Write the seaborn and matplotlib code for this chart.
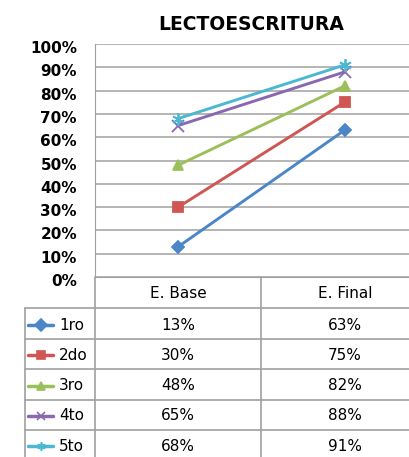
import pandas as pd
import matplotlib.pyplot as plt
import matplotlib.transforms as mtrans
import seaborn as sns

# datos de la tabla
etapas = ["E. Base", "E. Final"]
grados = ["1ro", "2do", "3ro", "4to", "5to"]
base = [13, 30, 48, 65, 68]
final = [63, 75, 82, 88, 91]
colores = ["#4A86C8", "#CF5652", "#9BBF59", "#8A68B0", "#4BB8D2"]
marcadores = ["D", "s", "^", "x", (6, 2, 0)]
tam = [6, 7.5, 7.5, 8, 9]

df = pd.DataFrame({
    "grado": [g for g in grados for _ in etapas],
    "pos": [i for _ in grados for i in range(len(etapas))],
    "valor": [v / 100 for b, f in zip(base, final) for v in (b, f)],
})

sns.set_style("white")
plt.rcParams["font.family"] = ["DejaVu Sans"]
plt.rcParams["text.color"] = "black"

W, H = 409, 457
fig = plt.figure(figsize=(W / 100, H / 100), dpi=100)

# capa de la tabla en coordenadas de pixel
tb = fig.add_axes([0, 0, 1, 1])
tb.set_xlim(0, W)
tb.set_ylim(H, 0)
tb.axis("off")

ax = fig.add_axes([95 / W, (H - 277) / H, (W - 95) / W, 233 / H])
ax.patch.set_alpha(0)

for g, c, m, s in zip(grados, colores, marcadores, tam):
    d = df[df["grado"] == g]
    sns.lineplot(x=d["pos"].values, y=d["valor"].values, color=c, marker=m,
                 linewidth=2.1, markersize=s, markeredgewidth=1.3,
                 markeredgecolor=c, ax=ax)

ax.set_xlim(-0.5, 1.387)
ax.set_ylim(0, 1)
ax.set_yticks([i / 10 for i in range(11)])
ax.set_yticklabels([f"{i * 10}%" for i in range(11)], fontweight="bold",
                   fontsize=11, color="black")
ax.tick_params(axis="y", length=0, pad=13)
# etiquetas un poco por debajo de la linea, como en Excel
off = mtrans.ScaledTranslation(0, -3 / 100, fig.dpi_scale_trans)
for lbl in ax.get_yticklabels():
    lbl.set_transform(lbl.get_transform() + off)
ax.set_xticks([])
ax.yaxis.grid(True, color="#a0a0a0", linewidth=1.1)
for s in ["top", "right"]:
    ax.spines[s].set_visible(False)
ax.spines["left"].set_color("#a0a0a0")
ax.spines["bottom"].set_color("#a0a0a0")
ax.set_xlabel("")
ax.set_ylabel("")

fig.text(251 / W, 1 - 24 / H, "LECTOESCRITURA", ha="center", va="center",
         fontsize=13.5, fontweight="heavy", color="black")

# tabla de datos
linea = dict(color="#a0a0a0", linewidth=1.2)
filas = [308, 339, 369, 400, 430]
for y in filas:
    tb.plot([25, W], [y, y], **linea)
tb.plot([95, 95], [277, H], **linea)
tb.plot([261, 261], [277, H], **linea)
tb.plot([25, 25], [308, H], **linea)

cx = [178, 345]
for x, e in zip(cx, etapas):
    tb.text(x, 294, e, ha="center", va="center", fontsize=11)

for i, (g, c, m) in enumerate(zip(grados, colores, marcadores)):
    yc = 325 + i * 30.3
    tb.plot([28, 53], [yc, yc], color=c, linewidth=2.5)
    tb.plot([40.5], [yc], marker=m, color=c, markersize=6, markeredgewidth=1.2)
    tb.text(59, yc, g, ha="left", va="center", fontsize=11)
    tb.text(cx[0], yc, f"{base[i]}%", ha="center", va="center", fontsize=11)
    tb.text(cx[1], yc, f"{final[i]}%", ha="center", va="center", fontsize=11)

fig.savefig("out.png", dpi=100)
